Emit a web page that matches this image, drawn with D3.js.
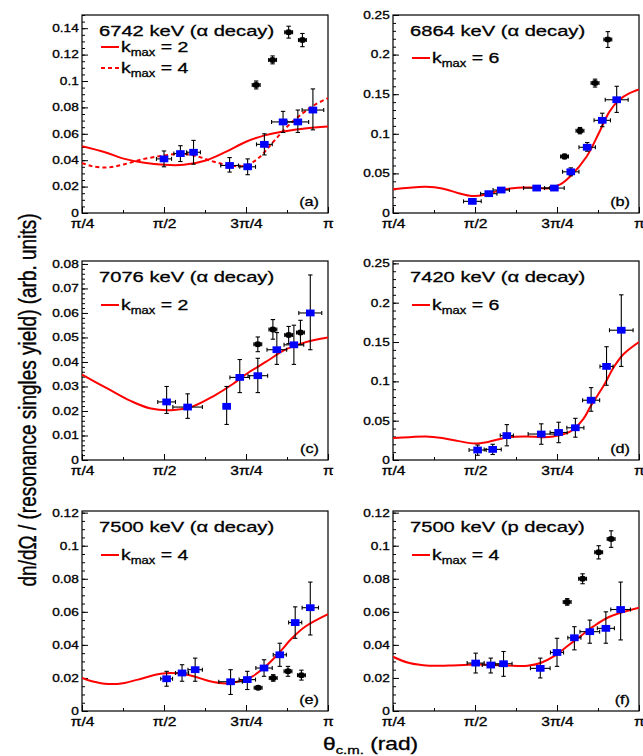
<!DOCTYPE html>
<html>
<head>
<meta charset="utf-8">
<script src="https://cdn.jsdelivr.net/npm/d3@7"></script>
<style>
  body { margin: 0; background: #fff; }
  text { font-family: "Liberation Sans", Arial, Helvetica, sans-serif; fill: #000; stroke: #000; stroke-width: 0.3px; }
</style>
</head>
<body>
<svg id="chart" width="643" height="756"></svg>
<script>
// horizontal stretch of the original figure's lettering
const SX = 1.3;

// x axis: angle in units of pi
const xMajor = [0.25, 0.5, 0.75, 1.0];
const xMinor = [0.375, 0.625, 0.875];
const xTickLabels = ["π/4", "π/2", "3π/4", "π"];

// ---- (a) 6742 keV
const aTitle = "6742 keV (α decay)";
const aYTicks = [0, 0.02, 0.04, 0.06, 0.08, 0.1, 0.12, 0.14];
const aBlueX = [0.50, 0.55, 0.59, 0.70, 0.755, 0.806, 0.863, 0.908, 0.954];
const aBlueY = [0.041, 0.045, 0.046, 0.036, 0.035, 0.052, 0.069, 0.069, 0.078];
const aBlueXErr = [0.023, 0.02, 0.021, 0.027, 0.024, 0.024, 0.035, 0.033, 0.033];
const aBlueLo = [0.035, 0.039, 0.037, 0.031, 0.029, 0.044, 0.061, 0.061, 0.063];
const aBlueHi = [0.047, 0.051, 0.055, 0.042, 0.041, 0.060, 0.077, 0.078, 0.094];
const aBlackX = [0.781, 0.831, 0.880, 0.922];
const aBlackY = [0.097, 0.116, 0.137, 0.131];
const aBlackErr = [0.003, 0.003, 0.0045, 0.005];
const aFitK2 = [[0.25,0.0505],[0.32,0.046],[0.38,0.041],[0.44,0.038],[0.50,0.0365],[0.56,0.0365],
  [0.63,0.040],[0.69,0.0465],[0.75,0.054],[0.81,0.059],[0.87,0.062],[0.93,0.064],[1.0,0.0655]];
const aFitK4 = [[0.25,0.038],[0.28,0.0355],[0.33,0.0345],[0.38,0.037],[0.44,0.041],[0.50,0.0435],
  [0.55,0.045],[0.60,0.043],[0.65,0.039],[0.70,0.036],[0.75,0.036],[0.79,0.042],[0.83,0.053],
  [0.87,0.064],[0.92,0.075],[0.96,0.082],[1.0,0.087]];

// ---- (b) 6864 keV
const bTitle = "6864 keV (α decay)";
const bYTicks = [0, 0.05, 0.1, 0.15, 0.2, 0.25];
const bBlueX = [0.492, 0.542, 0.58, 0.688, 0.742, 0.792, 0.842, 0.888, 0.932];
const bBlueY = [0.0147, 0.0244, 0.029, 0.0315, 0.0315, 0.052, 0.083, 0.117, 0.143];
const bBlueXErr = [0.027, 0.025, 0.025, 0.04, 0.03, 0.025, 0.025, 0.025, 0.035];
const bBlueLo = [0.012, 0.022, 0.026, 0.029, 0.029, 0.047, 0.078, 0.109, 0.127];
const bBlueHi = [0.018, 0.027, 0.032, 0.034, 0.034, 0.057, 0.089, 0.126, 0.160];
const bBlackX = [0.773, 0.82, 0.866, 0.905];
const bBlackY = [0.0714, 0.104, 0.164, 0.219];
const bBlackErr = [0.003, 0.004, 0.005, 0.010];
const bFitK6 = [[0.25,0.030],[0.30,0.032],[0.35,0.033],[0.40,0.031],[0.45,0.025],[0.49,0.0215],
  [0.53,0.023],[0.58,0.029],[0.63,0.032],[0.68,0.032],[0.72,0.031],[0.76,0.036],[0.79,0.046],
  [0.84,0.071],[0.88,0.103],[0.91,0.128],[0.94,0.143],[0.97,0.151],[1.0,0.156]];

// ---- (c) 7076 keV
const cTitle = "7076 keV (α decay)";
const cYTicks = [0, 0.01, 0.02, 0.03, 0.04, 0.05, 0.06, 0.07, 0.08];
const cBlueX = [0.508, 0.572, 0.691, 0.731, 0.786, 0.844, 0.896, 0.946];
const cBlueY = [0.0237, 0.0216, 0.0219, 0.0337, 0.0344, 0.045, 0.047, 0.060];
const cBlueXErr = [0.027, 0.045, 0.01, 0.03, 0.03, 0.03, 0.03, 0.035];
const cBlueLo = [0.019, 0.017, 0.0145, 0.0275, 0.0275, 0.039, 0.039, 0.045];
const cBlueHi = [0.030, 0.027, 0.030, 0.041, 0.0415, 0.052, 0.055, 0.0755];
const cBlackX = [0.786, 0.832, 0.88, 0.916];
const cBlackY = [0.0472, 0.0533, 0.051, 0.052];
const cBlackErr = [0.003, 0.004, 0.0035, 0.005];
const cFitK2 = [[0.25,0.0348],[0.33,0.029],[0.40,0.024],[0.46,0.021],[0.53,0.0204],[0.59,0.022],
  [0.65,0.026],[0.71,0.031],[0.75,0.035],[0.81,0.040],[0.87,0.045],[0.93,0.048],[1.0,0.050]];

// ---- (d) 7420 keV
const dTitle = "7420 keV (α decay)";
const dYTicks = [0, 0.05, 0.1, 0.15, 0.2, 0.25];
const dBlueX = [0.508, 0.554, 0.597, 0.702, 0.755, 0.806, 0.854, 0.901, 0.946];
const dBlueY = [0.0127, 0.0135, 0.031, 0.033, 0.035, 0.041, 0.076, 0.119, 0.165];
const dBlueXErr = [0.026, 0.026, 0.02, 0.04, 0.026, 0.026, 0.026, 0.02, 0.036];
const dBlueLo = [0.006, 0.007, 0.018, 0.020, 0.022, 0.029, 0.062, 0.095, 0.119];
const dBlueHi = [0.019, 0.020, 0.045, 0.046, 0.048, 0.053, 0.092, 0.144, 0.210];
const dFitK6 = [[0.25,0.028],[0.30,0.029],[0.35,0.030],[0.40,0.028],[0.45,0.024],[0.50,0.021],
  [0.54,0.023],[0.60,0.029],[0.66,0.030],[0.70,0.029],[0.74,0.030],[0.79,0.036],[0.83,0.052],
  [0.852,0.068],[0.893,0.095],[0.923,0.118],[0.954,0.135],[1.0,0.150]];

// ---- (e) 7500 keV, alpha
const eTitle = "7500 keV (α decay)";
const eYTicks = [0, 0.02, 0.04, 0.06, 0.08, 0.1, 0.12];
const eBlueX = [0.508, 0.555, 0.595, 0.703, 0.754, 0.805, 0.853, 0.9, 0.946];
const eBlueY = [0.0195, 0.023, 0.025, 0.0177, 0.019, 0.026, 0.034, 0.0535, 0.0625];
const eBlueXErr = [0.018, 0.02, 0.022, 0.036, 0.025, 0.025, 0.02, 0.02, 0.025];
const eBlueLo = [0.015, 0.018, 0.018, 0.010, 0.013, 0.021, 0.027, 0.044, 0.046];
const eBlueHi = [0.024, 0.028, 0.032, 0.025, 0.024, 0.031, 0.041, 0.063, 0.078];
const eBlackX = [0.787, 0.833, 0.878, 0.919];
const eBlackY = [0.014, 0.020, 0.024, 0.0217];
const eBlackErr = [0.001, 0.002, 0.003, 0.003];
const eFitK4 = [[0.25,0.020],[0.28,0.018],[0.33,0.0163],[0.38,0.017],[0.42,0.019],[0.49,0.0225],
  [0.54,0.0228],[0.59,0.021],[0.64,0.018],[0.69,0.0167],[0.73,0.018],[0.77,0.021],[0.81,0.027],
  [0.85,0.035],[0.89,0.044],[0.93,0.051],[1.0,0.0586]];

// ---- (f) 7500 keV, proton
const fTitle = "7500 keV (p decay)";
const fYTicks = [0, 0.02, 0.04, 0.06, 0.08, 0.1, 0.12];
const fBlueX = [0.502, 0.548, 0.587, 0.699, 0.75, 0.803, 0.85, 0.899, 0.944];
const fBlueY = [0.029, 0.0278, 0.0286, 0.0258, 0.0354, 0.0443, 0.048, 0.050, 0.0614];
const fBlueXErr = [0.026, 0.026, 0.026, 0.03, 0.02, 0.02, 0.03, 0.026, 0.03];
const fBlueLo = [0.023, 0.023, 0.021, 0.020, 0.027, 0.037, 0.041, 0.041, 0.043];
const fBlueHi = [0.035, 0.032, 0.036, 0.032, 0.044, 0.051, 0.055, 0.060, 0.078];
const fBlackX = [0.781, 0.828, 0.877, 0.915];
const fBlackY = [0.066, 0.080, 0.096, 0.104];
const fBlackErr = [0.002, 0.003, 0.004, 0.005];
const fFitK4 = [[0.25,0.0328],[0.30,0.029],[0.36,0.0274],[0.42,0.0275],[0.48,0.028],[0.54,0.028],
  [0.60,0.0275],[0.66,0.0274],[0.70,0.029],[0.74,0.033],[0.78,0.039],[0.82,0.045],[0.86,0.051],
  [0.91,0.057],[1.0,0.0625]];

function zipBlue(x, y, xe, lo, hi) {
    return x.map((v, i) => ({x: v, y: y[i], xe: xe[i], lo: lo[i], hi: hi[i]}));
}
function zipBlack(x, y, e) {
    return x.map((v, i) => ({x: v, y: y[i], xe: 0.012, lo: y[i] - e[i], hi: y[i] + e[i]}));
}

const L = [82, 328], R = [393, 639];
const panels = [
    {tag: "(a)", title: aTitle, xr: L, yr: [15, 213], ymax: 0.15, yTicks: aYTicks, yMinor: 0.005,
     blue: zipBlue(aBlueX, aBlueY, aBlueXErr, aBlueLo, aBlueHi), black: zipBlack(aBlackX, aBlackY, aBlackErr),
     fits: [{pts: aFitK2, k: "2", dash: null}, {pts: aFitK4, k: "4", dash: "4,3"}], legY: [32, 53]},
    {tag: "(b)", title: bTitle, xr: R, yr: [15, 213], ymax: 0.25, yTicks: bYTicks, yMinor: 0.01,
     blue: zipBlue(bBlueX, bBlueY, bBlueXErr, bBlueLo, bBlueHi), black: zipBlack(bBlackX, bBlackY, bBlackErr),
     fits: [{pts: bFitK6, k: "6", dash: null}], legY: [43]},
    {tag: "(c)", title: cTitle, xr: L, yr: [261, 460], ymax: 0.0812, yTicks: cYTicks, yMinor: 0.002,
     blue: zipBlue(cBlueX, cBlueY, cBlueXErr, cBlueLo, cBlueHi), black: zipBlack(cBlackX, cBlackY, cBlackErr),
     fits: [{pts: cFitK2, k: "2", dash: null}], legY: [44]},
    {tag: "(d)", title: dTitle, xr: R, yr: [261, 460], ymax: 0.253, yTicks: dYTicks, yMinor: 0.01,
     blue: zipBlue(dBlueX, dBlueY, dBlueXErr, dBlueLo, dBlueHi), black: [],
     fits: [{pts: dFitK6, k: "6", dash: null}], legY: [44]},
    {tag: "(e)", title: eTitle, xr: L, yr: [511, 711], ymax: 0.121, yTicks: eYTicks, yMinor: 0.005,
     blue: zipBlue(eBlueX, eBlueY, eBlueXErr, eBlueLo, eBlueHi), black: zipBlack(eBlackX, eBlackY, eBlackErr),
     fits: [{pts: eFitK4, k: "4", dash: null}], legY: [44]},
    {tag: "(f)", title: fTitle, xr: R, yr: [511, 711], ymax: 0.121, yTicks: fYTicks, yMinor: 0.005,
     blue: zipBlue(fBlueX, fBlueY, fBlueXErr, fBlueLo, fBlueHi), black: zipBlack(fBlackX, fBlackY, fBlackErr),
     fits: [{pts: fFitK4, k: "4", dash: null}], legY: [44]}
];

const svg = d3.select("#chart");
const fmt = d => d === 0 ? "0" : String(+d.toFixed(3));

panels.forEach((p, pi) => {
    const x = d3.scaleLinear().domain([0.25, 1]).range(p.xr);
    const y = d3.scaleLinear().domain([0, p.ymax]).range([p.yr[1], p.yr[0]]);
    const g = svg.append("g");
    const x0 = p.xr[0], x1 = p.xr[1], y0 = p.yr[0], y1 = p.yr[1];

    g.append("defs").append("clipPath").attr("id", "clip" + pi)
        .append("rect").attr("x", x0).attr("y", y0).attr("width", x1 - x0).attr("height", y1 - y0);

    // axes, ticks pointing inward
    const xAx = g.append("g").attr("transform", `translate(0,${y1})`)
        .call(d3.axisBottom(x).tickValues(xMajor).tickSize(-6).tickPadding(6)
            .tickFormat((d, i) => xTickLabels[i]));
    g.append("g").attr("transform", `translate(0,${y1})`)
        .call(d3.axisBottom(x).tickValues(xMinor).tickSize(-3).tickFormat(""));
    const yMinorVals = d3.range(0, p.ymax + 1e-9, p.yMinor);
    g.append("g").attr("transform", `translate(${x0},0)`)
        .call(d3.axisLeft(y).tickValues(yMinorVals).tickSize(-3).tickFormat(""));
    const yAx = g.append("g").attr("transform", `translate(${x0},0)`)
        .call(d3.axisLeft(y).tickValues(p.yTicks).tickSize(-6).tickPadding(2.5).tickFormat(fmt));
    g.selectAll(".domain").remove();
    g.selectAll(".tick line").attr("stroke", "#000").attr("stroke-width", 1);
    xAx.selectAll("text").attr("font-size", 12).attr("transform", `scale(${SX},1)`);
    yAx.selectAll("text").attr("font-size", 10.5).attr("transform", `scale(${SX},1)`);
    g.selectAll(".tick text").style("font-family", "'Liberation Sans', Arial, sans-serif").attr("fill", "#000");

    g.append("rect").attr("x", x0).attr("y", y0).attr("width", x1 - x0).attr("height", y1 - y0)
        .attr("fill", "none").attr("stroke", "#000").attr("stroke-width", 1.2);

    // fits
    const line = d3.line().x(d => x(d[0])).y(d => y(d[1])).curve(d3.curveCatmullRom);
    const fitG = g.append("g").attr("clip-path", `url(#clip${pi})`);
    p.fits.forEach(f => {
        fitG.append("path").datum(f.pts).attr("d", line)
            .attr("fill", "none").attr("stroke", "#ff0000").attr("stroke-width", 2)
            .attr("stroke-dasharray", f.dash);
    });

    // error bars
    function errBars(data, cap) {
        const eg = g.append("g").attr("stroke", "#000").attr("stroke-width", 1.1);
        data.forEach(d => {
            const cx = x(d.x), cy = y(d.y);
            eg.append("line").attr("x1", cx).attr("x2", cx).attr("y1", y(d.lo)).attr("y2", y(d.hi));
            eg.append("line").attr("x1", cx - cap).attr("x2", cx + cap).attr("y1", y(d.lo)).attr("y2", y(d.lo));
            eg.append("line").attr("x1", cx - cap).attr("x2", cx + cap).attr("y1", y(d.hi)).attr("y2", y(d.hi));
            const xl = x(d.x - d.xe), xr = x(d.x + d.xe);
            eg.append("line").attr("x1", xl).attr("x2", xr).attr("y1", cy).attr("y2", cy);
            eg.append("line").attr("x1", xl).attr("x2", xl).attr("y1", cy - 2).attr("y2", cy + 2);
            eg.append("line").attr("x1", xr).attr("x2", xr).attr("y1", cy - 2).attr("y2", cy + 2);
        });
    }
    errBars(p.black, 2.2);
    errBars(p.blue, 2.2);

    g.append("g").selectAll("ellipse").data(p.black).join("ellipse")
        .attr("cx", d => x(d.x)).attr("cy", d => y(d.y))
        .attr("rx", 3.6).attr("ry", 3).attr("fill", "#000");
    g.append("g").selectAll("rect").data(p.blue).join("rect")
        .attr("x", d => x(d.x) - 4.3).attr("y", d => y(d.y) - 3.4)
        .attr("width", 8.6).attr("height", 6.8).attr("fill", "#0000ff");

    // title and legend
    g.append("text").attr("transform", `translate(${x0 + 17},${y0 + 21}) scale(${SX},1)`)
        .attr("font-size", 15.5).text(p.title);
    p.fits.forEach((f, i) => {
        const ly = y0 + p.legY[i];
        g.append("line").attr("x1", x0 + 19).attr("x2", x0 + 37).attr("y1", ly).attr("y2", ly)
            .attr("stroke", "#ff0000").attr("stroke-width", 2).attr("stroke-dasharray", f.dash);
        const t = g.append("text").attr("transform", `translate(${x0 + 39},${ly + 5}) scale(${SX},1)`)
            .attr("font-size", 15);
        t.append("tspan").text("k");
        t.append("tspan").attr("font-size", 10).attr("dy", 4).text("max");
        t.append("tspan").attr("dy", -4).text(" = " + f.k);
    });

    g.append("text").attr("transform", `translate(${x1 - 9},${y1 - 7}) scale(${SX},1)`)
        .attr("text-anchor", "end").attr("font-size", 12.5).text(p.tag);
});

// axis titles
svg.append("text").attr("transform", `translate(36,400) scale(${SX},1) rotate(-90)`)
    .attr("text-anchor", "middle").attr("font-size", 19)
    .text("dn/dΩ / (resonance singles yield) (arb. units)");

const xt = svg.append("text").attr("transform", `translate(323,750) scale(${SX},1)`).attr("font-size", 17.5);
xt.append("tspan").text("θ");
xt.append("tspan").attr("font-size", 11.5).attr("dy", 4).text("c.m.");
xt.append("tspan").attr("dy", -4).text(" (rad)");
</script>
</body>
</html>
